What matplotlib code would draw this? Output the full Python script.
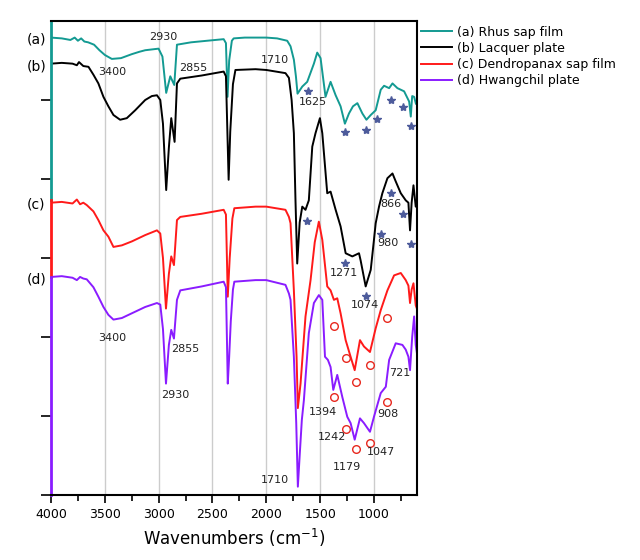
import numpy as np
import matplotlib
matplotlib.use("Agg")
import matplotlib.pyplot as plt
from matplotlib.ticker import MultipleLocator

# FTIR spectra, offset transmittance (a.u.)
wn_a = [4000, 3900, 3820, 3780, 3750, 3720, 3690, 3655, 3600, 3550, 3500, 3435, 3350, 3250, 3180,
        3125, 3001, 2965, 2930, 2892, 2855, 2830, 2700, 2550, 2396, 2375, 2360, 2345, 2320, 2303,
        2200, 2000, 1900, 1806, 1775, 1744, 1725, 1710, 1666, 1620, 1558, 1527, 1496, 1450,
        1403, 1356, 1310, 1270, 1232, 1195, 1154, 1108, 1070, 1030, 984, 937, 906, 859, 828,
        782, 720, 673, 658, 645, 627, 610, 596]
tr_a = [5.79, 5.78, 5.76, 5.79, 5.75, 5.78, 5.74, 5.73, 5.70, 5.63, 5.57, 5.52, 5.53, 5.58, 5.61,
        5.63, 5.65, 5.55, 5.09, 5.30, 5.19, 5.70, 5.73, 5.75, 5.77, 5.72, 5.04, 5.50, 5.75, 5.78,
        5.79, 5.79, 5.78, 5.75, 5.68, 5.51, 5.30, 5.08, 5.17, 5.23, 5.46, 5.60, 5.53, 5.04,
        5.23, 5.06, 4.92, 4.70, 4.83, 4.92, 4.96, 4.83, 4.75, 4.81, 4.87, 5.13, 5.18, 5.15, 5.21,
        5.15, 5.11, 4.98, 4.79, 5.05, 5.04, 4.95, 5.00]

wn_b = [4000, 3900, 3800, 3760, 3740, 3700, 3652, 3606, 3560, 3513, 3467, 3420, 3358, 3296,
        3218, 3125, 3063, 3016, 2985, 2960, 2930, 2905, 2883, 2852, 2830, 2799, 2600, 2396,
        2375, 2350, 2335, 2310, 2287, 2100, 2000, 1822, 1790, 1765, 1744, 1729, 1713, 1690,
        1666, 1636, 1605, 1573, 1543, 1502, 1480, 1434, 1403, 1356, 1310, 1263, 1201, 1139,
        1124, 1077, 1030, 1000, 984, 953, 922, 875, 828, 798, 751, 705, 680, 665, 650, 633,
        612, 596]
tr_b = [5.46, 5.47, 5.46, 5.44, 5.48, 5.43, 5.42, 5.32, 5.21, 5.04, 4.92, 4.81, 4.75, 4.77,
        4.87, 5.00, 5.05, 5.06, 5.00, 4.70, 3.86, 4.40, 4.77, 4.47, 5.21, 5.27, 5.31, 5.36,
        5.30, 3.99, 4.60, 5.20, 5.38, 5.39, 5.38, 5.34, 5.28, 5.00, 4.58, 3.73, 2.93, 3.45,
        3.65, 3.61, 3.73, 4.41, 4.58, 4.77, 4.58, 3.82, 3.84, 3.61, 3.40, 3.06, 3.02, 3.06,
        2.97, 2.64, 2.85, 3.23, 3.44, 3.65, 3.82, 4.01, 4.07, 3.97, 3.82, 3.73, 3.70, 3.35,
        3.70, 3.92, 3.65, 3.68]

wn_c = [4000, 3900, 3800, 3760, 3730, 3700, 3668, 3606, 3560, 3513, 3467, 3420, 3342, 3249,
        3125, 3016, 2985, 2960, 2932, 2905, 2883, 2858, 2830, 2799, 2600, 2396, 2375, 2358,
        2340, 2315, 2297, 2100, 2000, 1822, 1790, 1775, 1744, 1719, 1707, 1682, 1636, 1589,
        1550, 1512, 1480, 1434, 1403, 1372, 1341, 1310, 1263, 1217, 1179, 1130, 1093, 1037,
        984, 937, 875, 813, 751, 705, 680, 665, 650, 633, 612, 596]
tr_c = [3.70, 3.71, 3.69, 3.74, 3.68, 3.70, 3.67, 3.59, 3.48, 3.35, 3.27, 3.14, 3.16, 3.21,
        3.29, 3.35, 3.31, 3.00, 2.36, 2.80, 3.02, 2.91, 3.48, 3.52, 3.56, 3.61, 3.55, 2.51,
        3.00, 3.50, 3.63, 3.65, 3.65, 3.61, 3.52, 3.44, 2.59, 1.75, 1.10, 1.41, 2.26, 2.72,
        3.20, 3.46, 3.23, 2.64, 2.59, 2.47, 2.49, 2.30, 1.96, 1.75, 1.58, 1.96, 1.88, 1.81,
        2.11, 2.34, 2.59, 2.78, 2.81, 2.72, 2.65, 2.43, 2.60, 2.68, 2.40, 2.34]

wn_d = [4000, 3900, 3800, 3760, 3730, 3700, 3668, 3606, 3560, 3513, 3467, 3420, 3342, 3249,
        3125, 3016, 2985, 2960, 2932, 2905, 2883, 2858, 2830, 2799, 2600, 2396, 2375, 2358,
        2345, 2330, 2310, 2297, 2100, 2000, 1822, 1790, 1775, 1744, 1722, 1707, 1690, 1670,
        1651, 1605, 1558, 1512, 1480, 1455, 1428, 1403, 1378, 1341, 1294, 1248, 1217, 1179,
        1130, 1093, 1037, 1000, 937, 890, 859, 798, 736, 705, 680, 665, 645, 627, 612, 596]
tr_d = [2.76, 2.77, 2.75, 2.72, 2.76, 2.74, 2.73, 2.63, 2.51, 2.38, 2.28, 2.22, 2.24, 2.30,
        2.38, 2.43, 2.41, 2.10, 1.41, 1.90, 2.09, 1.98, 2.47, 2.59, 2.64, 2.70, 2.63, 1.41,
        1.75, 2.20, 2.60, 2.70, 2.72, 2.72, 2.66, 2.55, 2.47, 1.75, 0.91, 0.105, 0.50, 0.95,
        1.20, 2.05, 2.43, 2.53, 2.47, 1.75, 1.71, 1.62, 1.33, 1.52, 1.24, 0.99, 0.91, 0.70,
        0.97, 0.91, 0.80, 0.99, 1.29, 1.37, 1.71, 1.92, 1.90, 1.84, 1.75, 1.58, 2.00, 2.26,
        1.90, 1.75]

names = ["(a) Rhus sap film", "(b) Lacquer plate", "(c) Dendropanax sap film", "(d) Hwangchil plate"]
colors = ["#139a92", "black", "#ff1a1a", "#8a1cff"]
row_tags = ["(a)", "(b)", "(c)", "(d)"]
tag_y = [5.77, 5.43, 3.68, 2.73]

# peak labels (text, wavenumber, y)
peak_text = [("2930", 2955, 5.80), ("2855", 2681, 5.41), ("3400", 3435, 5.36), ("1710", 1924, 5.50),
             ("1625", 1568, 4.98), ("1271", 1279, 2.81), ("1074", 1084, 2.41), ("980", 875, 3.19),
             ("866", 844, 3.68), ("3400", 3435, 1.99), ("2855", 2753, 1.85), ("2930", 2846, 1.27),
             ("1710", 1924, 0.19), ("1394", 1471, 1.05), ("1242", 1387, 0.73), ("1179", 1248, 0.36),
             ("1047", 931, 0.54), ("908", 875, 1.02), ("721", 758, 1.54)]
star_w = [1611, 1273, 1074, 976, 844, 730, 658, 1626, 1270, 1077, 931, 842, 730, 658]
star_y = [5.11, 4.59, 4.62, 4.76, 5.00, 4.91, 4.67, 3.47, 2.94, 2.52, 3.31, 3.82, 3.56, 3.18]
circ_w = [1372, 1263, 1170, 1037, 875, 1372, 1263, 1170, 1037, 875]
circ_y = [2.14, 1.73, 1.43, 1.65, 2.24, 1.24, 0.84, 0.58, 0.66, 1.18]

fig = plt.figure(figsize=(6.4, 5.6), dpi=100)
ax = fig.add_axes([0.0797, 0.1161, 0.5719, 0.8464])

for w, t, c, n in zip([wn_a, wn_b, wn_c, wn_d], [tr_a, tr_b, tr_c, tr_d], colors, names):
    ax.plot(w, t, color=c, lw=1.4, label=n)

ax.plot(star_w, star_y, ls="none", marker="*", ms=6, color="#4d5b9b")
ax.plot(circ_w, circ_y, ls="none", marker="o", ms=5.5, mfc="none", mec="#e8281e", mew=1)

for s, w, y in peak_text:
    ax.text(w, y, s, fontsize=8, ha="center", va="center", color="#222222")

ytr = ax.get_yaxis_transform()
for tag, y in zip(row_tags, tag_y):
    ax.text(-0.04, y, tag, transform=ytr, fontsize=10, ha="center", va="center")

ax.set_xlim(4000, 600)
ax.set_ylim(0, 6)
ax.xaxis.set_major_locator(MultipleLocator(500))
ax.xaxis.set_minor_locator(MultipleLocator(250))
ax.set_yticks([0, 1, 2, 3, 4, 5])
ax.set_yticklabels([])
ax.tick_params(axis="x", which="major", direction="out", length=6, width=1.2, labelsize=9, top=False)
ax.tick_params(axis="x", which="minor", direction="out", length=4, width=1.2, top=False)
ax.tick_params(axis="y", direction="out", length=7, width=1.2, right=False)
for xv in [3500, 3000, 2500, 2000, 1500, 1000]:
    ax.axvline(xv, color="#cccccc", lw=1, zorder=0)

for side in ["top", "right", "bottom"]:
    ax.spines[side].set_linewidth(1.5)
ax.spines["left"].set_visible(False)
ax.axvline(4000, ymin=0.622, ymax=1.0, color=colors[0], lw=2, clip_on=False)
ax.axvline(4000, ymin=0.46, ymax=0.622, color=colors[2], lw=2, clip_on=False)
ax.axvline(4000, ymin=0.0, ymax=0.46, color=colors[3], lw=2, clip_on=False)

ax.set_xlabel(r"Wavenumbers (cm$^{-1}$)", fontsize=12)

ax.legend(loc="upper left", bbox_to_anchor=(1.01, 0.99), frameon=False, fontsize=9,
          handlelength=2.5, handletextpad=0.4, labelspacing=0.25, borderaxespad=0, borderpad=0)

fig.savefig("out.png", dpi=100)
